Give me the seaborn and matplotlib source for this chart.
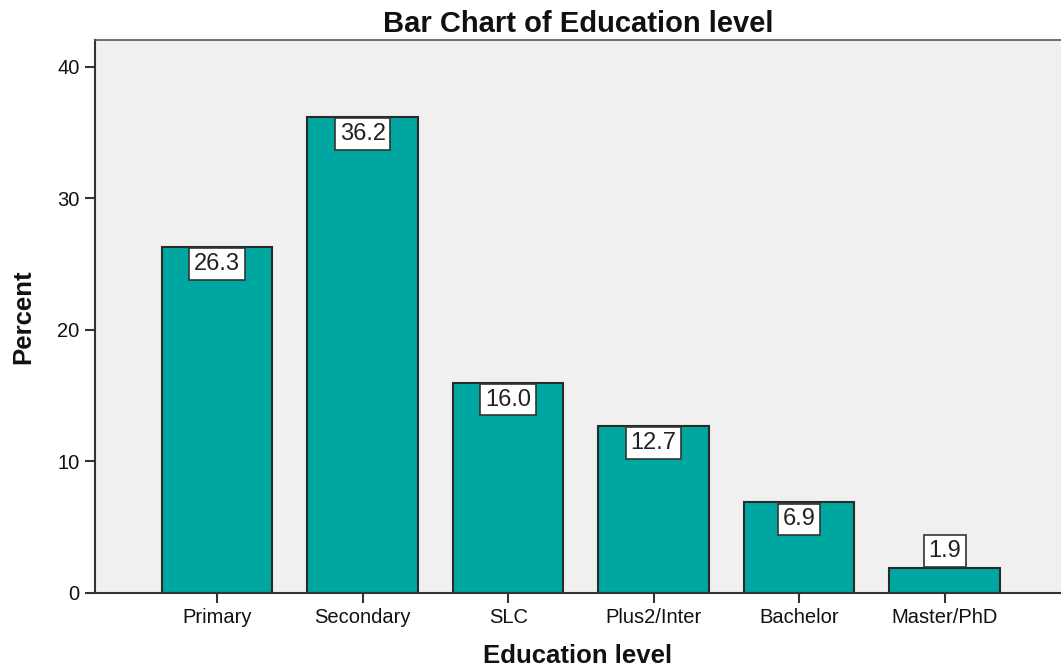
import matplotlib
matplotlib.use("Agg")
import matplotlib.pyplot as plt
import seaborn as sns
import pandas as pd

categories = ["Primary", "Secondary", "SLC", "Plus2/Inter", "Bachelor", "Master/PhD"]
percent = [26.3, 36.2, 16.0, 12.7, 6.9, 1.9]
yticks = [0, 10, 20, 30, 40]

sns.set_style("white")
plt.rcParams['font.family'] = ['Liberation Sans', 'DejaVu Sans']

df = pd.DataFrame({"Education level": categories, "Percent": percent})

fig = plt.figure(figsize=(10.61, 6.72), dpi=100)
ax = fig.add_axes([0.0895, 0.1176, 0.9105, 0.8229])
ax.set_facecolor("#F0F0F0")

sns.barplot(data=df, x="Education level", y="Percent", ax=ax, color="#00A6A0",
            saturation=1, width=0.76, edgecolor="#2a2a2a", linewidth=1.5)

ax.set_xlim(-0.84, 5.8)
ax.set_ylim(0, 42.05)
ax.set_yticks(yticks)
ax.tick_params(axis="both", direction="out", length=7, width=1.5, color="#333333",
               labelsize=14.5, pad=4, labelcolor="#111111")
ax.tick_params(axis="y", left=True)
ax.tick_params(axis="x", bottom=True)

for s in ["left", "bottom"]:
    ax.spines[s].set_color("#333333")
    ax.spines[s].set_linewidth(1.5)
ax.spines["top"].set_color("#555555")
ax.spines["top"].set_linewidth(1.2)
ax.spines["right"].set_visible(False)

fs = 17
pad = 0.2
off = pad * fs + 1
for i, v in enumerate(percent):
    inside = v > 3
    ax.annotate(f"{v:.1f}", xy=(i, v), xytext=(0, -off if inside else off),
                textcoords="offset points", ha="center",
                va="top" if inside else "bottom", fontsize=fs, color="#222222",
                bbox=dict(boxstyle=f"square,pad={pad}", facecolor="white",
                          edgecolor="#333333", linewidth=1.2))

ax.set_title("Bar Chart of Education level", fontsize=21, fontweight="bold", pad=6,
             color="#111111")
ax.set_xlabel("Education level", fontsize=18.5, fontweight="bold", labelpad=12,
              color="#111111")
ax.set_ylabel("Percent", fontsize=18.5, fontweight="bold", labelpad=16,
              color="#111111")

fig.savefig("out.png", dpi=100)
